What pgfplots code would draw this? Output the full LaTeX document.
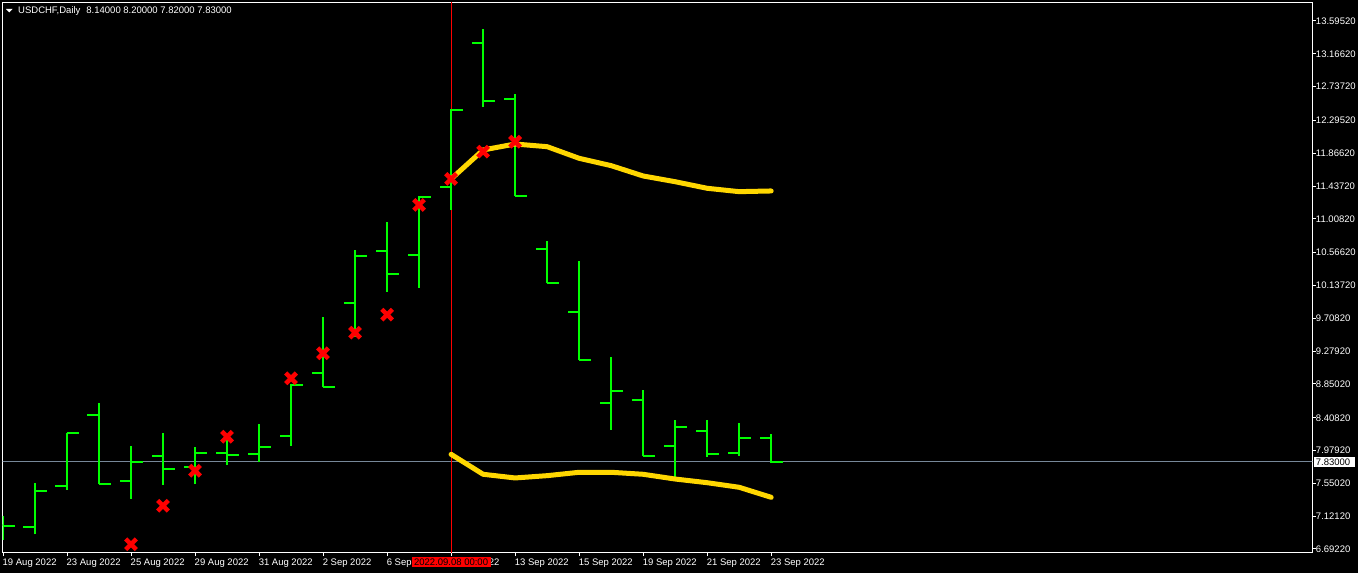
\documentclass[border=0pt]{standalone}
\usepackage{fontspec}
\setmainfont{Liberation Sans}
\usepackage{pgfplots}
\pgfplotsset{compat=1.18}
\usepackage{pgfplotstable}
\definecolor{mtgreen}{RGB}{0,255,0}
\definecolor{mtgold}{RGB}{255,215,0}
\definecolor{bidgray}{RGB}{119,136,153}

\pgfplotstableread{
x o h l c
0 7.000 7.124 6.810 6.997
1 6.984 7.551 6.888 7.454
2 7.516 8.205 7.464 8.205
3 8.448 8.597 7.542 7.542
4 7.585 8.039 7.350 7.834
5 7.908 8.205 7.533 7.738
6 7.768 8.022 7.546 7.951
7 7.951 8.140 7.794 7.921
8 7.938 8.327 7.826 8.030
9 8.170 8.846 8.043 8.840
10 8.997 9.725 8.806 8.814
11 9.912 10.601 9.460 10.523
12 10.592 10.967 10.056 10.292
13 10.540 11.307 10.109 11.298
14 11.429 12.441 11.124 12.436
15 13.312 13.491 12.475 12.553
16 12.580 12.641 11.307 11.311
17 10.618 10.719 10.166 10.174
18 9.795 10.458 9.163 9.167
19 8.605 9.202 8.248 8.762
20 8.644 8.771 7.908 7.912
21 8.039 8.379 7.634 8.291
22 8.239 8.379 7.899 7.934
23 7.951 8.340 7.912 8.143
24 8.140 8.200 7.820 7.830
}\ohlc

\pgfplotstableread{
x y
4 6.754
5 7.258
6 7.716
7 8.160
9 8.924
10 9.251
11 9.520
12 9.756
13 11.190
14 11.530
15 11.887
16 12.017
}\crosses

\pgfplotstableread{
x up lo
14 11.530 7.930
15 11.909 7.669
16 11.987 7.621
17 11.952 7.651
18 11.800 7.695
19 11.704 7.695
20 11.569 7.669
21 11.494 7.607
22 11.408 7.559
23 11.364 7.499
24 11.373 7.368
}\bands

\begin{document}
\begin{tikzpicture}[x=1pt,y=1pt]
\useasboundingbox (0,0) rectangle (1358,573);
\fill[black] (0,0) rectangle (1358,573);
\fontsize{9.5}{11}\selectfont
\begin{axis}[
  at={(2.5pt,20.3pt)}, anchor=south west,
  scale only axis, width=1309.8pt, height=550.4pt,
  xmin=-0.015625, xmax=40.90625,
  ymin=6.64383, ymax=13.83954,
  axis line style={white, line width=1pt},
  tick align=outside,
  major tick length=3.5pt,
  major tick style={white, line width=1pt},
  xtick pos=left, xticklabel pos=left,
  ytick pos=right, yticklabel pos=right,
  xtick={0,2,4,6,8,10,12,14,16,18,20,22,24},
  xticklabels={19 Aug 2022,23 Aug 2022,25 Aug 2022,29 Aug 2022,31 Aug 2022,2 Sep 2022,6 Sep 2022,8 Sep 2022,13 Sep 2022,15 Sep 2022,19 Sep 2022,21 Sep 2022,23 Sep 2022},
  ytick={6.6922,7.1212,7.5502,7.9792,8.4082,8.8502,9.2792,9.7082,10.1372,10.5662,11.0082,11.4372,11.8662,12.2952,12.7372,13.1662,13.5952},
  yticklabels={6.69220,7.12120,7.55020,7.97920,8.40820,8.85020,9.27920,9.70820,10.13720,10.56620,11.00820,11.43720,11.86620,12.29520,12.73720,13.16620,13.59520},
  xticklabel style={text=white, anchor=north west, inner sep=0pt, xshift=-0.5pt, yshift=-2pt, font=\fontsize{9.5}{11}\selectfont},
  yticklabel style={text=white, anchor=west, inner sep=0pt, font=\fontsize{9.5}{11}\selectfont},
  clip=true,
]
% bid line
\addplot[bidgray, line width=1pt, forget plot] coordinates {(-1,7.83) (42,7.83)};
% crosshair vertical
\addplot[red, line width=1pt, forget plot] coordinates {(14,6.0) (14,14.5)};
% high-low
\addplot[draw=none, mark=none, forget plot,
  error bars/.cd, y dir=plus, y explicit, error mark=none,
  error bar style={draw=mtgreen, line width=2pt, solid}]
  table[x=x, y=l, y error expr=\thisrow{h}-\thisrow{l}] {\ohlc};
% open ticks
\addplot[draw=none, mark=none, forget plot,
  error bars/.cd, x dir=minus, x explicit, error mark=none,
  error bar style={draw=mtgreen, line width=2pt, solid}]
  table[x=x, y=o, x error expr=0.36] {\ohlc};
% close ticks
\addplot[draw=none, mark=none, forget plot,
  error bars/.cd, x dir=plus, x explicit, error mark=none,
  error bar style={draw=mtgreen, line width=2pt, solid}]
  table[x=x, y=c, x error expr=0.36] {\ohlc};
% bands
\addplot[mtgold, line width=5pt, line join=round, line cap=round, mark=none] table[x=x, y=up] {\bands};
\addplot[mtgold, line width=5pt, line join=round, line cap=round, mark=none] table[x=x, y=lo] {\bands};
% crosses
\addplot[only marks, red, mark=x, mark size=7.5pt, line width=4.5pt, mark options={line width=4.5pt, red}] table[x=x, y=y] {\crosses};
\coordinate (bidR) at (axis cs:40.90625,7.83);
\coordinate (crossB) at (axis cs:14,6.64383);
\end{axis}
% bid price label
\node[fill=white, text=black, anchor=west, inner xsep=1.7pt, inner ysep=1.5pt, text height=7pt, text depth=0pt, text width=37.6pt, align=left] at ([xshift=1.7pt]bidR) {7.83000};
% crosshair date label
\node[fill=red, text=black, anchor=center, inner xsep=2.5pt, inner ysep=1.5pt, text height=7pt, text depth=0pt] at ([yshift=-9pt]crossB) {2022.09.08 00:00};
% title
\fill[white] (6,564) -- (12.5,564) -- (9.25,560.5) -- cycle;
\node[anchor=base west, text=white, inner sep=0pt] at (18,559) {USDCHF,Daily\hspace{6pt}8.14000 8.20000 7.82000 7.83000};
\end{tikzpicture}
\end{document}
